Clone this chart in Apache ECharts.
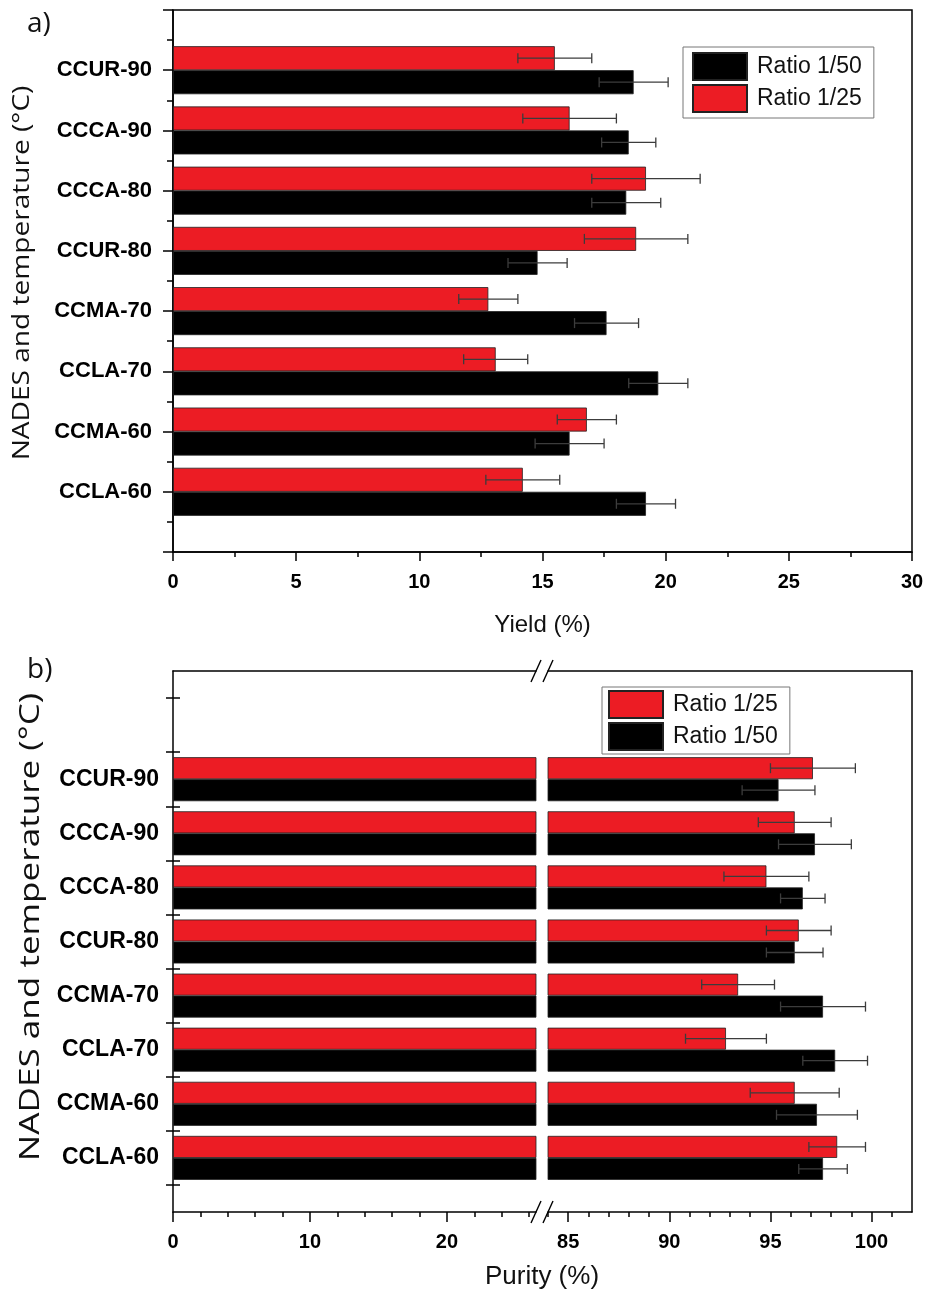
<!DOCTYPE html>
<html>
<head>
<meta charset="utf-8">
<script src="https://cdn.jsdelivr.net/npm/echarts@6/dist/echarts.min.js"></script>
<style>
    html, body { margin: 0; padding: 0; background: #fff; }
    #main { width: 927px; height: 1303px; }
</style>
</head>
<body>
<div id="main"></div>
<script>
// categories from bottom to top
let categories = ['CCLA-60', 'CCMA-60', 'CCLA-70', 'CCMA-70', 'CCUR-80', 'CCCA-80', 'CCCA-90', 'CCUR-90'];

// a) yield (%)
let yield25 = [14.2, 16.8, 13.1, 12.8, 18.8, 19.2, 16.1, 15.5];
let yield25Err = [1.5, 1.2, 1.3, 1.2, 2.1, 2.2, 1.9, 1.5];
let yield50 = [19.2, 16.1, 19.7, 17.6, 14.8, 18.4, 18.5, 18.7];
let yield50Err = [1.2, 1.4, 1.2, 1.3, 1.2, 1.4, 1.1, 1.4];

// b) purity (%)
let purity25 = [98.3, 96.2, 92.8, 93.4, 96.4, 94.8, 96.2, 97.1];
let purity25Err = [1.4, 2.2, 2.0, 1.8, 1.6, 2.1, 1.8, 2.1];
let purity50 = [97.6, 97.3, 98.2, 97.6, 96.2, 96.6, 97.2, 95.4];
let purity50Err = [1.2, 2.0, 1.6, 2.1, 1.4, 1.1, 1.8, 1.8];

// tick values for the broken purity axis
let purityLowLabels = [0, 10, 20];
let purityLowMinor = [2, 4, 6, 8, 12, 14, 16, 18, 22, 24, 26];
let purityHighLabels = [85, 90, 95, 100];
let purityHighMinor = [84, 86, 87, 88, 89, 91, 92, 93, 94, 96, 97, 98, 99, 101];
let bHalfTicks = [0.5, 1.5, 2.5, 3.5, 4.5, 5.5, 6.5, 7.5, 8.5, 9.5];

let RED = '#ec1c24';
let BLACK = '#000000';
let labelFont = 'Liberation Sans, Arial, sans-serif';
let nameFont = 'Open Sans, sans-serif';
let yTitle = 'NADES and temperature (\u00b0C)';

// category lists padded so that the bars sit on integer positions
let catsA = [''].concat(categories, ['']);
let catsB = [''].concat(categories, ['', '']);
let padA = arr => ['-'].concat(arr, ['-']);
let padB = arr => ['-'].concat(arr, ['-', '-']);
let errData = (vals, errs) => vals.map((v, i) => [v, i + 1, errs[i]]);

function errorBars(shift) {
    return function (params, api) {
        let c = api.value(1);
        let v = api.value(0);
        let e = api.value(2);
        let lo = api.coord([v - e, c]);
        let hi = api.coord([v + e, c]);
        let y = lo[1] + shift;
        let style = { stroke: '#3c3c3c', lineWidth: 1.3 };
        return {
            type: 'group',
            children: [
                { type: 'line', shape: { x1: lo[0], y1: y, x2: hi[0], y2: y }, style: style },
                { type: 'line', shape: { x1: lo[0], y1: y - 5, x2: lo[0], y2: y + 5 }, style: style },
                { type: 'line', shape: { x1: hi[0], y1: y - 5, x2: hi[0], y2: y + 5 }, style: style }
            ]
        };
    };
}

let axisLine = { show: true, onZero: false, lineStyle: { color: '#000', width: 1.5 } };
let noAxisLine = { show: false, onZero: false };
let boldLabel = { fontFamily: labelFont, fontWeight: 'bold', fontSize: 20, color: '#000' };
let catLabel = { interval: 0, fontFamily: labelFont, fontWeight: 'bold', color: '#000' };

function barSeries(name, data, color, xi, yi, width) {
    return {
        name: name,
        type: 'bar',
        xAxisIndex: xi,
        yAxisIndex: yi,
        data: data,
        barWidth: width,
        barGap: '0%',
        clip: true,
        itemStyle: { color: color, borderColor: '#222', borderWidth: 0.8 },
        z: 2
    };
}

function errSeries(data, xi, yi, shift) {
    return {
        type: 'custom',
        xAxisIndex: xi,
        yAxisIndex: yi,
        data: data,
        encode: { x: 0, y: 1 },
        renderItem: errorBars(shift),
        z: 5,
        silent: true
    };
}

// break marks "//"
function breakMark(x, y) {
    let st = { stroke: '#000', lineWidth: 1.4 };
    return {
        type: 'group',
        children: [
            { type: 'rect', shape: { x: x - 6, y: y - 2, width: 12, height: 4 }, style: { fill: '#fff' } },
            { type: 'line', shape: { x1: x - 11, y1: y + 11, x2: x - 1, y2: y - 11 }, style: st },
            { type: 'line', shape: { x1: x + 1, y1: y + 11, x2: x + 11, y2: y - 11 }, style: st }
        ]
    };
}

// rotated axis title, a little stretched along its length like the original figure
function sideTitle(x, y, size, stretch) {
    return {
        type: 'text', x: x, y: y, rotation: Math.PI / 2, scaleX: stretch,
        style: { text: yTitle, fontFamily: nameFont, fontSize: size, fill: '#111', align: 'center', verticalAlign: 'middle' }
    };
}

let legendBase = {
    orient: 'vertical',
    icon: 'rect',
    itemWidth: 54,
    itemHeight: 27,
    itemGap: 3,
    borderColor: '#777',
    borderWidth: 1,
    selectedMode: false,
    textStyle: { fontFamily: labelFont, fontSize: 23, color: '#111', padding: [0, 0, 0, 5] }
};

let option = {
    backgroundColor: '#fff',
    animation: false,
    legend: [
        Object.assign({}, legendBase, {
            data: ['Ratio 1/50', 'Ratio 1/25'], left: 683, top: 47, padding: [5, 12, 5, 9]
        }),
        Object.assign({}, legendBase, {
            data: ['Ratio 1/25', 'Ratio 1/50'], left: 602, top: 687, padding: [3, 12, 3, 6]
        })
    ],
    grid: [
        { left: 173, top: 10, width: 739, height: 542, outerBoundsMode: 'none', containLabel: false,
          show: true, borderColor: '#000', borderWidth: 1.5 },
        { left: 173, top: 671, width: 363, height: 541, outerBoundsMode: 'none', containLabel: false },
        { left: 548, top: 671, width: 364, height: 541, outerBoundsMode: 'none', containLabel: false }
    ],
    xAxis: [
        {   // 0: yield
            type: 'value', gridIndex: 0, position: 'bottom', min: 0, max: 30, interval: 5,
            axisLine: axisLine,
            axisTick: { show: true, length: 9, lineStyle: { color: '#000', width: 1.5 } },
            minorTick: { show: true, splitNumber: 2, length: 5, lineStyle: { color: '#000', width: 1.5 } },
            splitLine: { show: false },
            axisLabel: Object.assign({ margin: 20 }, boldLabel),
            name: 'Yield (%)', nameLocation: 'middle', nameGap: 61,
            nameTextStyle: { fontFamily: labelFont, fontSize: 24, color: '#111' }
        },
        {   // 1: purity low, labels + major ticks
            type: 'value', gridIndex: 1, position: 'bottom', min: 0, max: 26.5,
            axisLine: axisLine,
            axisTick: { show: true, length: 10, customValues: purityLowLabels, lineStyle: { color: '#000', width: 1.5 } },
            splitLine: { show: false },
            axisLabel: Object.assign({ margin: 20, customValues: purityLowLabels }, boldLabel)
        },
        {   // 2: purity low minor ticks
            type: 'value', gridIndex: 1, position: 'bottom', min: 0, max: 26.5,
            axisLine: noAxisLine,
            axisTick: { show: true, length: 5, customValues: purityLowMinor, lineStyle: { color: '#000', width: 1.5 } },
            splitLine: { show: false },
            axisLabel: { show: false }
        },
        {   // 3: purity low top border
            type: 'value', gridIndex: 1, min: 0, max: 26.5, position: 'top',
            axisLine: axisLine, axisTick: { show: false }, splitLine: { show: false }, axisLabel: { show: false }
        },
        {   // 4: purity high, labels + major ticks
            type: 'value', gridIndex: 2, position: 'bottom', min: 84, max: 102,
            axisLine: axisLine,
            axisTick: { show: true, length: 10, customValues: purityHighLabels, lineStyle: { color: '#000', width: 1.5 } },
            splitLine: { show: false },
            axisLabel: Object.assign({ margin: 20, customValues: purityHighLabels }, boldLabel)
        },
        {   // 5: purity high minor ticks
            type: 'value', gridIndex: 2, position: 'bottom', min: 84, max: 102,
            axisLine: noAxisLine,
            axisTick: { show: true, length: 5, customValues: purityHighMinor, lineStyle: { color: '#000', width: 1.5 } },
            splitLine: { show: false },
            axisLabel: { show: false }
        },
        {   // 6: purity high top border
            type: 'value', gridIndex: 2, min: 84, max: 102, position: 'top',
            axisLine: axisLine, axisTick: { show: false }, splitLine: { show: false }, axisLabel: { show: false }
        }
    ],
    yAxis: [
        {   // 0: yield categories
            type: 'category', gridIndex: 0, position: 'left', data: catsA, boundaryGap: false,
            axisLine: noAxisLine, axisTick: { show: false },
            axisLabel: Object.assign({ margin: 21, fontSize: 22 }, catLabel)
        },
        {   // 1: yield tick axis
            type: 'value', gridIndex: 0, position: 'left', min: 0, max: 9, interval: 1,
            axisLine: axisLine,
            axisTick: { show: true, length: 10, lineStyle: { color: '#000', width: 1.5 } },
            minorTick: { show: true, splitNumber: 2, length: 6, lineStyle: { color: '#000', width: 1.5 } },
            splitLine: { show: false },
            axisLabel: { show: false }
        },
        {   // 2: purity low categories
            type: 'category', gridIndex: 1, position: 'left', data: catsB, boundaryGap: false,
            axisLine: noAxisLine, axisTick: { show: false },
            axisLabel: Object.assign({ margin: 14, fontSize: 23 }, catLabel)
        },
        {   // 3: purity low left axis, outward ticks
            type: 'value', gridIndex: 1, position: 'left', min: 0, max: 10,
            axisLine: axisLine,
            axisTick: { show: true, length: 7, customValues: bHalfTicks, lineStyle: { color: '#000', width: 1.5 } },
            splitLine: { show: false },
            axisLabel: { show: false }
        },
        {   // 4: purity low left axis, inward ticks
            type: 'value', gridIndex: 1, position: 'left', min: 0, max: 10,
            axisLine: noAxisLine,
            axisTick: { show: true, inside: true, length: 7, customValues: bHalfTicks, lineStyle: { color: '#000', width: 1.5 } },
            splitLine: { show: false },
            axisLabel: { show: false }
        },
        {   // 5: purity high categories (hidden)
            type: 'category', gridIndex: 2, position: 'left', data: catsB, boundaryGap: false,
            axisLine: noAxisLine, axisTick: { show: false }, axisLabel: { show: false }
        },
        {   // 6: purity high right border
            type: 'value', gridIndex: 2, min: 0, max: 10, position: 'right',
            axisLine: axisLine, axisTick: { show: false }, splitLine: { show: false }, axisLabel: { show: false }
        }
    ],
    series: [
        barSeries('Ratio 1/25', padA(yield25), RED, 0, 0, 24),
        barSeries('Ratio 1/50', padA(yield50), BLACK, 0, 0, 24),
        errSeries(errData(yield25, yield25Err), 0, 0, -12),
        errSeries(errData(yield50, yield50Err), 0, 0, 12),

        barSeries('Ratio 1/25', padB(purity25), RED, 1, 2, 22),
        barSeries('Ratio 1/50', padB(purity50), BLACK, 1, 2, 22),

        barSeries('Ratio 1/25', padB(purity25), RED, 4, 5, 22),
        barSeries('Ratio 1/50', padB(purity50), BLACK, 4, 5, 22),
        errSeries(errData(purity25, purity25Err), 4, 5, -11),
        errSeries(errData(purity50, purity50Err), 4, 5, 11)
    ],
    graphic: [
        { type: 'text', left: 27, top: 10, style: { text: 'a)', fontFamily: nameFont, fontSize: 28, fill: '#111' } },
        { type: 'text', left: 27, top: 656, style: { text: 'b)', fontFamily: nameFont, fontSize: 28, fill: '#111' } },
        sideTitle(22, 273, 24, 1.17),
        sideTitle(31, 927, 27, 1.3),
        {
            type: 'text', x: 542, y: 1277,
            style: { text: 'Purity (%)', fontFamily: labelFont, fontSize: 26, fill: '#111', align: 'center', verticalAlign: 'middle' }
        },
        breakMark(542, 671),
        breakMark(542, 1212)
    ]
};

let chart = echarts.init(document.getElementById('main'));
chart.setOption(option);
</script>
</body>
</html>
